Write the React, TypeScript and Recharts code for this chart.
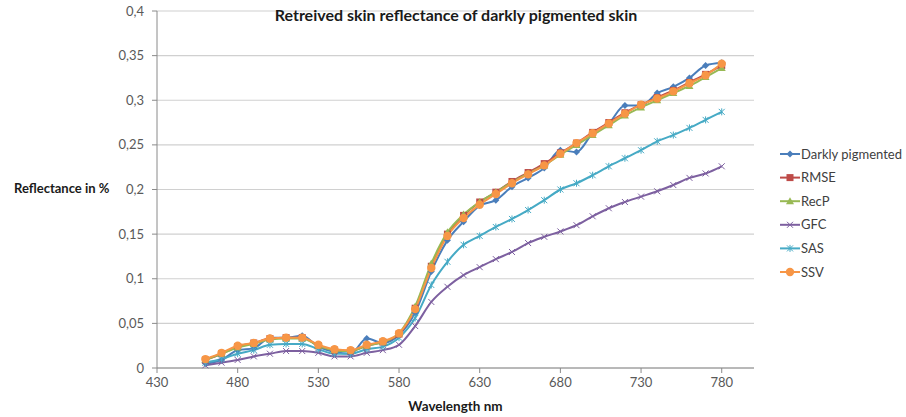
import React from "react";
import { LineChart, Line, XAxis, YAxis, CartesianGrid } from "recharts";

const wavelengths = [460, 470, 480, 490, 500, 510, 520, 530, 540, 550, 560, 570, 580, 590, 600, 610, 620, 630, 640, 650, 660, 670, 680, 690, 700, 710, 720, 730, 740, 750, 760, 770, 780];

const darkly = [0.005, 0.009, 0.020, 0.022, 0.034, 0.034, 0.036, 0.024, 0.018, 0.016, 0.033, 0.028, 0.037, 0.062, 0.108, 0.143, 0.164, 0.182, 0.188, 0.203, 0.213, 0.224, 0.244, 0.242, 0.263, 0.274, 0.294, 0.294, 0.308, 0.315, 0.325, 0.339, 0.342];
const rmse = [0.009, 0.016, 0.024, 0.028, 0.033, 0.034, 0.034, 0.025, 0.020, 0.019, 0.025, 0.029, 0.038, 0.067, 0.114, 0.150, 0.171, 0.186, 0.197, 0.209, 0.219, 0.229, 0.241, 0.252, 0.264, 0.275, 0.286, 0.295, 0.303, 0.311, 0.320, 0.329, 0.339];
const recp = [0.009, 0.016, 0.023, 0.027, 0.032, 0.033, 0.033, 0.025, 0.020, 0.019, 0.025, 0.029, 0.039, 0.069, 0.117, 0.152, 0.172, 0.186, 0.197, 0.208, 0.218, 0.227, 0.239, 0.250, 0.261, 0.272, 0.283, 0.292, 0.300, 0.308, 0.316, 0.326, 0.336];
const gfc = [0.003, 0.006, 0.009, 0.013, 0.016, 0.019, 0.019, 0.017, 0.013, 0.013, 0.017, 0.020, 0.026, 0.047, 0.074, 0.091, 0.104, 0.113, 0.122, 0.130, 0.140, 0.147, 0.153, 0.160, 0.170, 0.179, 0.186, 0.192, 0.198, 0.205, 0.213, 0.218, 0.226];
const sas = [0.006, 0.010, 0.016, 0.020, 0.026, 0.027, 0.027, 0.021, 0.016, 0.016, 0.021, 0.024, 0.034, 0.056, 0.093, 0.119, 0.138, 0.148, 0.158, 0.167, 0.177, 0.188, 0.200, 0.207, 0.216, 0.226, 0.235, 0.244, 0.254, 0.261, 0.269, 0.278, 0.287];
const ssv = [0.010, 0.017, 0.025, 0.028, 0.033, 0.034, 0.034, 0.026, 0.021, 0.020, 0.026, 0.030, 0.039, 0.066, 0.112, 0.148, 0.168, 0.183, 0.195, 0.207, 0.217, 0.227, 0.240, 0.252, 0.263, 0.274, 0.285, 0.295, 0.302, 0.310, 0.319, 0.328, 0.341];

const xTicks = [430, 480, 530, 580, 630, 680, 730, 780];
const yTicks = [0, 0.05, 0.1, 0.15, 0.2, 0.25, 0.3, 0.35, 0.4];

const title = "Retreived skin reflectance of darkly pigmented skin";
const xLabel = "Wavelength nm";
const yLabel = "Reflectance in %";

type Shape = "diamond" | "square" | "triangle" | "x" | "star" | "circle";

const series: { key: string; name: string; color: string; shape: Shape; values: number[] }[] = [
  { key: "darkly", name: "Darkly pigmented", color: "#4A7EBB", shape: "diamond", values: darkly },
  { key: "rmse", name: "RMSE", color: "#BE4B48", shape: "square", values: rmse },
  { key: "recp", name: "RecP", color: "#98B954", shape: "triangle", values: recp },
  { key: "gfc", name: "GFC", color: "#7D60A0", shape: "x", values: gfc },
  { key: "sas", name: "SAS", color: "#46AAC5", shape: "star", values: sas },
  { key: "ssv", name: "SSV", color: "#F79646", shape: "circle", values: ssv },
];

const data = wavelengths.map((w, i) => {
  const row: Record<string, number> = { w };
  series.forEach((s) => {
    row[s.key] = s.values[i];
  });
  return row;
});

function Marker({ cx, cy, shape, color }: { cx: number; cy: number; shape: Shape; color: string }) {
  if (cx == null || cy == null) return null;
  switch (shape) {
    case "diamond":
      return <polygon points={`${cx},${cy - 3.5} ${cx + 3.5},${cy} ${cx},${cy + 3.5} ${cx - 3.5},${cy}`} fill={color} />;
    case "square":
      return <rect x={cx - 3.5} y={cy - 3.5} width={7} height={7} fill={color} />;
    case "triangle":
      return <polygon points={`${cx},${cy - 4} ${cx + 4},${cy + 3} ${cx - 4},${cy + 3}`} fill={color} />;
    case "x":
      return (
        <g stroke={color} strokeWidth={1}>
          <line x1={cx - 3} y1={cy - 3} x2={cx + 3} y2={cy + 3} />
          <line x1={cx - 3} y1={cy + 3} x2={cx + 3} y2={cy - 3} />
        </g>
      );
    case "star":
      return (
        <g stroke={color} strokeWidth={1}>
          <line x1={cx - 3} y1={cy - 3} x2={cx + 3} y2={cy + 3} />
          <line x1={cx - 3} y1={cy + 3} x2={cx + 3} y2={cy - 3} />
          <line x1={cx} y1={cy - 3.5} x2={cx} y2={cy + 3.5} />
        </g>
      );
    case "circle":
    default:
      return <circle cx={cx} cy={cy} r={4.2} fill={color} />;
  }
}

const makeDot = (shape: Shape, color: string) => (props: any) => (
  <Marker key={`${shape}-${props.index}`} cx={props.cx} cy={props.cy} shape={shape} color={color} />
);

const fontFamily = "Lato, 'Open Sans', sans-serif";

export default function App() {
  return (
    <div style={{ position: "absolute", left: 0, top: 0, width: 906, height: 417, background: "#fff", fontFamily }}>
      <LineChart width={906} height={417} data={data} margin={{ top: 11, right: 152, bottom: 19, left: 0 }}>
        <CartesianGrid vertical={false} stroke="#d0d0d0" strokeWidth={1.2} />
        <XAxis
          dataKey="w"
          type="number"
          domain={[430, 800]}
          ticks={xTicks}
          allowDataOverflow
          height={30}
          stroke="#8a8a8a"
          tickSize={5}
          tickMargin={5}
          tick={{ fill: "#595959", fontSize: 13, fontFamily }}
        />
        <YAxis
          width={157}
          domain={[0, 0.4]}
          ticks={yTicks}
          stroke="#8a8a8a"
          tickSize={5}
          tickMargin={8}
          tickFormatter={(v: number) => String(v).replace(".", ",")}
          tick={{ fill: "#595959", fontSize: 13, fontFamily }}
        />
        {series.map((s) => (
          <Line
            key={s.key}
            dataKey={s.key}
            name={s.name}
            type="monotone"
            stroke={s.color}
            strokeWidth={2}
            dot={makeDot(s.shape, s.color)}
            activeDot={false}
            isAnimationActive={false}
          />
        ))}
      </LineChart>
      <div
        style={{
          position: "absolute",
          left: 0,
          width: 912,
          top: 5,
          textAlign: "center",
          fontWeight: 700,
          fontSize: 16,
          color: "#1a1a1a",
        }}
      >
        {title}
      </div>
      <div style={{ position: "absolute", left: 14, top: 180, fontWeight: 700, fontSize: 13, color: "#1a1a1a" }}>{yLabel}</div>
      <div style={{ position: "absolute", left: 157, width: 597, top: 398, textAlign: "center", fontWeight: 700, fontSize: 13.5, color: "#1a1a1a" }}>
        {xLabel}
      </div>
      <svg style={{ position: "absolute", left: 770, top: 140 }} width={136} height={150}>
        {series.map((s, i) => {
          const y = 14 + i * 23.6;
          return (
            <g key={s.key}>
              <line x1={10} y1={y} x2={30} y2={y} stroke={s.color} strokeWidth={2} />
              <Marker cx={20} cy={y} shape={s.shape} color={s.color} />
              <text x={31} y={y + 4.5} fontSize={13} fill="#404040" fontFamily={fontFamily}>
                {s.name}
              </text>
            </g>
          );
        })}
      </svg>
    </div>
  );
}
